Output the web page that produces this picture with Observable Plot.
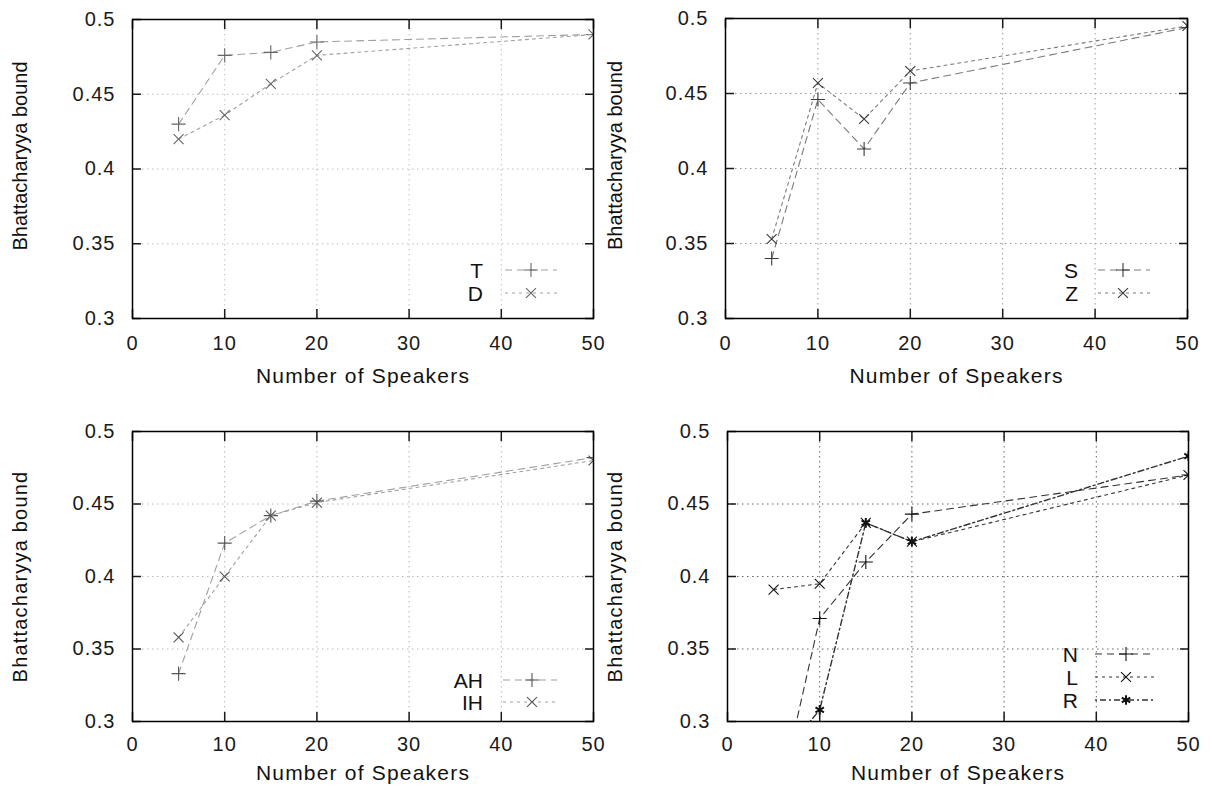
<!DOCTYPE html>
<html>
<head>
<meta charset="utf-8">
<script src="https://cdn.jsdelivr.net/npm/d3@7"></script>
<script src="https://cdn.jsdelivr.net/npm/@observablehq/plot@0.6"></script>
<style>
  body { margin: 0; background: #fff; }
  #root { position: relative; width: 1212px; height: 797px; overflow: hidden; background: #fff;
          font-family: "Liberation Sans", Arial, Helvetica, sans-serif; }
  #root svg { position: absolute; overflow: visible; }
  #root svg text.tick { letter-spacing: 1px; }
</style>
</head>
<body>
<div id="root"></div>
<script>
// ---------- data ----------
const speakers = [5, 10, 15, 20, 50];

const seriesT  = [0.430, 0.476, 0.478, 0.485, 0.490];
const seriesD  = [0.420, 0.436, 0.457, 0.476, 0.490];
const seriesS  = [0.340, 0.446, 0.413, 0.457, 0.494];
const seriesZ  = [0.353, 0.457, 0.433, 0.465, 0.495];
const seriesAH = [0.333, 0.423, 0.442, 0.452, 0.482];
const seriesIH = [0.358, 0.400, 0.442, 0.451, 0.480];
const seriesN  = [0.230, 0.371, 0.410, 0.443, 0.470];
const seriesL  = [0.391, 0.395, 0.437, 0.424, 0.470];
const seriesR  = [0.270, 0.308, 0.437, 0.424, 0.483];

const panelNames = [["T", "D"], ["S", "Z"], ["AH", "IH"], ["N", "L", "R"]];
const panelValues = [[seriesT, seriesD], [seriesS, seriesZ], [seriesAH, seriesIH], [seriesN, seriesL, seriesR]];

const xTicks = [0, 10, 20, 30, 40, 50];
const xTickLabels = ["0", "10", "20", "30", "40", "50"];
const yTicks = [0.3, 0.35, 0.4, 0.45, 0.5];
const yTickLabels = ["0.3", "0.35", "0.4", "0.45", "0.5"];
const xTitle = "Number of Speakers";
const yTitle = "Bhattacharyya bound";

// ---------- layout / style ----------
const FONT = '"Liberation Sans", Arial, Helvetica, sans-serif';
const seriesStyle = [
  {symbol: "plus",     dash: "7,5",     width: 1.1},
  {symbol: "times",    dash: "3,4",     width: 1.1},
  {symbol: "asterisk", dash: "2,3,6,3", width: 1.4}
];
const layout = [
  {left: 0,   top: 0,   width: 606, height: 398, ml: 132, mr: 13, mt: 19, mb: 80,
   tickGap: 17, xTitleGap: 50, yTitleDx: -120, yTitleDy: -13, yTitleSpacing: 0,
   ink: "#a0a0a0", mark: "#666", grid: "#c0c0c0",
   legend: {textEnd: 483, rows: [270, 293], x1: 505, x2: 557, mx: 531}},
  {left: 606, top: 0,   width: 606, height: 398, ml: 119, mr: 25, mt: 18, mb: 80,
   tickGap: 17, xTitleGap: 50, yTitleDx: -118, yTitleDy: -13, yTitleSpacing: 0,
   ink: "#7a7a7a", mark: "#3a3a3a", grid: "#999",
   legend: {textEnd: 472, rows: [270, 293], x1: 492, x2: 544, mx: 517}},
  {left: 0,   top: 398, width: 606, height: 399, ml: 132, mr: 13, mt: 33, mb: 76,
   tickGap: 15, xTitleGap: 44, yTitleDx: -120, yTitleDy: 0, yTitleSpacing: 1.2,
   ink: "#a0a0a0", mark: "#555", grid: "#b8b8b8",
   legend: {textEnd: 483, rows: [282, 304], x1: 503, x2: 557, mx: 532}},
  {left: 606, top: 398, width: 606, height: 399, ml: 121, mr: 24, mt: 33, mb: 76,
   tickGap: 15, xTitleGap: 44, yTitleDx: -120, yTitleDy: 0, yTitleSpacing: 1.2,
   ink: "#333", mark: "#111", grid: "#666",
   legend: {textEnd: 472, rows: [256, 279, 302], x1: 489, x2: 549, mx: 520}}
];

const root = document.getElementById("root");
const xFmt = d => xTickLabels[xTicks.indexOf(d)];
const yFmt = d => yTickLabels[yTicks.findIndex(t => Math.abs(t - d) < 1e-9)];
const blank = () => "";

layout.forEach((L, p) => {
  const names = panelNames[p];
  const vals = panelValues[p];
  const seriesMarks = [];
  names.forEach((name, i) => {
    const rows = speakers.map((x, j) => ({x, y: vals[i][j]}));
    const st = seriesStyle[i];
    seriesMarks.push(Plot.line(rows, {x: "x", y: "y", stroke: L.ink, strokeWidth: st.width,
      strokeDasharray: st.dash, clip: true}));
    seriesMarks.push(Plot.dot(rows, {x: "x", y: "y", symbol: st.symbol, r: 4.6, stroke: L.mark,
      strokeWidth: st.symbol === "asterisk" ? 2 : 1.1, clip: true}));
  });

  const svg = Plot.plot({
    width: L.width, height: L.height,
    marginLeft: L.ml, marginRight: L.mr, marginTop: L.mt, marginBottom: L.mb,
    x: {domain: [0, 50]},
    y: {domain: [0.3, 0.5]},
    style: {fontFamily: FONT, fontSize: "20px", color: "#1a1a1a", background: "transparent"},
    marks: [
      Plot.gridX(xTicks.slice(1, -1), {stroke: L.grid, strokeOpacity: 1, strokeDasharray: "1.5,3.5"}),
      Plot.gridY(yTicks.slice(1, -1), {stroke: L.grid, strokeOpacity: 1, strokeDasharray: "1.5,3.5"}),
      ...seriesMarks,
      Plot.axisX(xTicks, {anchor: "bottom", tickSize: 0, tickPadding: L.tickGap, tickFormat: xFmt, label: null, fontSize: 20}),
      Plot.axisX(xTicks, {anchor: "bottom", tickSize: -9, tickFormat: blank, label: null, strokeWidth: 1.5}),
      Plot.axisX(xTicks, {anchor: "top", tickSize: -9, tickFormat: blank, label: null, strokeWidth: 1.5}),
      Plot.axisY(yTicks, {anchor: "left", tickSize: 0, tickPadding: 17, tickFormat: yFmt, label: null, fontSize: 20}),
      Plot.axisY(yTicks, {anchor: "left", tickSize: -9, tickFormat: blank, label: null, strokeWidth: 1.5}),
      Plot.axisY(yTicks, {anchor: "right", tickSize: -9, tickFormat: blank, label: null, strokeWidth: 1.5}),
      Plot.frame({stroke: "#000", strokeWidth: 1.5}),
      Plot.text([xTitle], {frameAnchor: "bottom", dy: L.xTitleGap, lineAnchor: "top", textAnchor: "middle", fontSize: 21, fill: "#111"}),
      Plot.text([yTitle], {frameAnchor: "left", rotate: -90, dx: L.yTitleDx, dy: L.yTitleDy, lineAnchor: "top", textAnchor: "middle", fontSize: 20, fill: "#111"})
    ]
  });
  svg.style.left = L.left + "px";
  svg.style.top = L.top + "px";

  d3.select(svg).selectAll('[aria-label="x-axis tick label"] text, [aria-label="y-axis tick label"] text')
    .attr("class", "tick");
  d3.select(svg).selectAll("text").filter(function () { return this.textContent === xTitle; })
    .style("letter-spacing", "1.2px");
  d3.select(svg).selectAll("text").filter(function () { return this.textContent === yTitle; })
    .style("letter-spacing", L.yTitleSpacing + "px");

  // legend (key) drawn inside the frame
  const g = d3.select(svg).append("g").attr("class", "key");
  const symMap = {plus: d3.symbolPlus, times: d3.symbolTimes, asterisk: d3.symbolAsterisk};
  names.forEach((name, i) => {
    const y = L.legend.rows[i];
    const st = seriesStyle[i];
    g.append("text").attr("x", L.legend.textEnd).attr("y", y).attr("dy", "0.36em")
      .attr("text-anchor", "end").attr("font-size", 21).attr("fill", "#111")
      .attr("font-family", FONT).text(name);
    g.append("line").attr("x1", L.legend.x1).attr("x2", L.legend.x2).attr("y1", y).attr("y2", y)
      .attr("stroke", L.ink).attr("stroke-width", st.width).attr("stroke-dasharray", st.dash);
    g.append("path").attr("transform", `translate(${L.legend.mx},${y})`)
      .attr("d", d3.symbol(symMap[st.symbol], Math.PI * 4.6 * 4.6)())
      .attr("fill", "none").attr("stroke", L.mark)
      .attr("stroke-width", st.symbol === "asterisk" ? 2 : 1.1);
  });

  root.appendChild(svg);
});
</script>
</body>
</html>
